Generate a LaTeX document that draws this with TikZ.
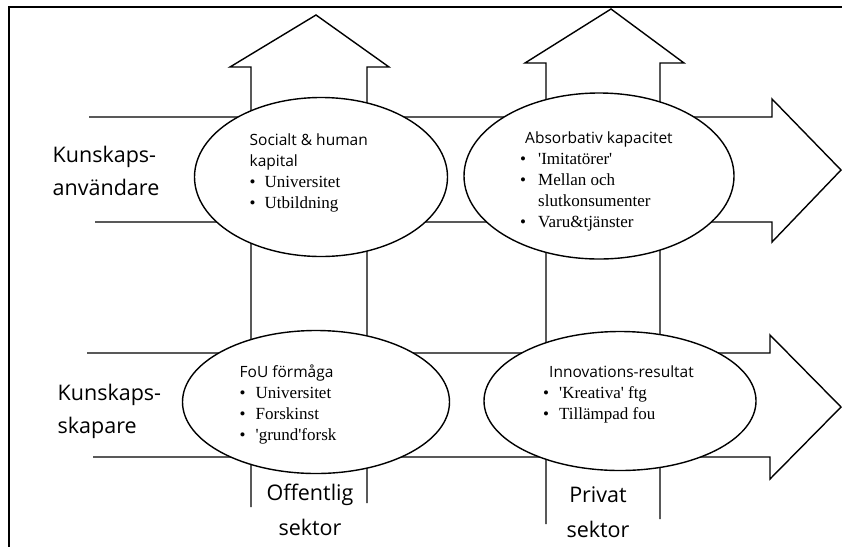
\documentclass[tikz,border=0pt]{standalone}
\usepackage{fontspec}
\setmainfont{Liberation Serif}
\newfontfamily\labelfont{Open Sans}
\usetikzlibrary{shapes.geometric}

\newcommand{\bul}[1][15pt]{\makebox[#1][l]{\textbullet}}
\newcommand{\titlef}{\labelfont\fontsize{15.5}{21}\selectfont}
\newcommand{\q}{\textquotesingle}

\begin{document}
\begin{tikzpicture}[x=1pt,y=-1pt,line width=1.4pt,
  oval/.style={ellipse,draw,fill=white,inner sep=0pt},
  big/.style={inner sep=0pt,anchor=base west,font=\labelfont\fontsize{21.5}{33}\selectfont},
  bigc/.style={big,anchor=base,font=\labelfont\fontsize{21.5}{35}\selectfont},
  box/.style={inner sep=0pt,anchor=base west,font=\fontsize{17}{21}\selectfont}]
  \useasboundingbox (0,0) rectangle (842,547);

  % frame
  \draw (842,7) -- (9,7) -- (9,547);

  % sector arrows (up) and knowledge arrows (right)
  \draw (251,507) -- (251,67) -- (230,67) -- (316,15) -- (389,67) -- (367,67) -- (367,503);
  \draw (546,524) -- (546,63) -- (525,63) -- (611,9) -- (684,63) -- (660,63) -- (660,519);
  \draw (89,117) -- (772,117) -- (772,99) -- (841,170) -- (772,242) -- (772,222) -- (95,222);
  \draw (87,353) -- (770,353) -- (770,335) -- (841,407) -- (770,479) -- (770,457) -- (93,457);

  \node[oval,minimum width=253pt,minimum height=159pt] (soc) at (321,177) {};
  \node[oval,minimum width=270pt,minimum height=166pt] (abs) at (599,176) {};
  \node[oval,minimum width=267pt,minimum height=143pt] (fou) at (316,402) {};
  \node[oval,minimum width=272pt,minimum height=139pt] (inn) at (620,401) {};

  \node[box] (soc_t) at (249,145) {\begin{tabular}[t]{@{}l@{}}
    \titlef Socialt \& human\\ \titlef kapital\\
    \bul Universitet\\ \bul Utbildning\end{tabular}};
  \node[box] (abs_t) at (519.5,143) {\begin{tabular}[t]{@{}l@{}}
    \hspace*{5pt}\titlef Absorbativ kapacitet\\
    \bul[18pt]\q Imitatörer\q\\ \bul[18pt]Mellan och\\
    \hspace*{18pt}slutkonsumenter\\ \bul[18pt]Varu\&tjänster\end{tabular}};
  \node[box] (fou_t) at (239,377) {\begin{tabular}[t]{@{}l@{}}
    \titlef FoU förmåga\\ \bul[16pt]Universitet\\
    \bul[16pt]Forskinst\\ \bul[16pt]\q grund\q forsk\end{tabular}};
  \node[box] (inn_t) at (542.5,377) {\begin{tabular}[t]{@{}l@{}}
    \hspace*{6pt}\titlef Innovations-resultat\\
    \bul[16pt]\q Kreativa\q{} ftg\\ \bul[16pt]Tillämpad fou\end{tabular}};

  \node[big] (anv) at (52,162) {\begin{tabular}[t]{@{}l@{}}Kunskaps-\\användare\end{tabular}};
  \node[big] (ska) at (57,400) {\begin{tabular}[t]{@{}l@{}}Kunskaps-\\skapare\end{tabular}};
  \node[bigc] (off) at (310,500) {\begin{tabular}[t]{@{}c@{}}Offentlig\\sektor\end{tabular}};
  \node[bigc] (pri) at (598,502) {\begin{tabular}[t]{@{}c@{}}Privat\\sektor\end{tabular}};
\end{tikzpicture}
\end{document}
